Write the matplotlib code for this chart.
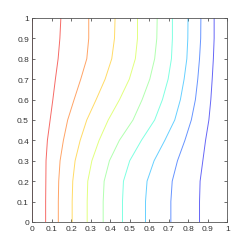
import matplotlib.pyplot as plt
import numpy as np

# y levels where the contour positions were read
y_levels = [0.0, 0.1, 0.2, 0.3, 0.4, 0.5, 0.6, 0.7, 0.8, 0.9, 1.0]

# x position of each contour line at the y levels above (left to right)
c0 = [0.0, 0.0, 0.0, 0.0, 0.0, 0.0, 0.0, 0.0, 0.0, 0.0, 0.0]
c1 = [0.068, 0.068, 0.069, 0.070, 0.077, 0.091, 0.105, 0.118, 0.132, 0.141, 0.146]
c2 = [0.133, 0.133, 0.135, 0.142, 0.159, 0.181, 0.214, 0.248, 0.279, 0.289, 0.289]
c3 = [0.204, 0.204, 0.207, 0.219, 0.245, 0.279, 0.327, 0.373, 0.407, 0.421, 0.424]
c4 = [0.281, 0.281, 0.284, 0.305, 0.342, 0.389, 0.447, 0.497, 0.528, 0.539, 0.539]
c5 = [0.363, 0.363, 0.368, 0.395, 0.446, 0.516, 0.563, 0.602, 0.627, 0.638, 0.640]
c6 = [0.462, 0.462, 0.467, 0.499, 0.559, 0.627, 0.667, 0.696, 0.713, 0.718, 0.718]
c7 = [0.580, 0.580, 0.588, 0.624, 0.679, 0.730, 0.759, 0.778, 0.792, 0.797, 0.798]
c8 = [0.710, 0.710, 0.717, 0.744, 0.782, 0.815, 0.836, 0.848, 0.857, 0.863, 0.864]
c9 = [0.857, 0.857, 0.860, 0.874, 0.888, 0.905, 0.915, 0.922, 0.928, 0.932, 0.932]

lines = [c0, c1, c2, c3, c4, c5, c6, c7, c8, c9]
levels = [1.0, 0.9, 0.8, 0.7, 0.6, 0.5, 0.4, 0.3, 0.2, 0.1]

ticks = [0, 0.1, 0.2, 0.3, 0.4, 0.5, 0.6, 0.7, 0.8, 0.9, 1]
tick_labels = ["0", "0.1", "0.2", "0.3", "0.4", "0.5", "0.6", "0.7", "0.8", "0.9", "1"]

plt.rcParams['font.family'] = ['Liberation Sans', 'DejaVu Sans']

fig = plt.figure(figsize=(2.51, 2.51), dpi=100)
ax = fig.add_axes([0.129, 0.1116, 0.777, 0.813])

for xs, lv in zip(lines, levels):
    ax.plot(xs, y_levels, color=plt.cm.jet(lv), linewidth=0.7, alpha=0.6)

ax.set_xlim(0, 1)
ax.set_ylim(0, 1)
ax.set_xticks(ticks)
ax.set_xticklabels(tick_labels)
ax.set_yticks(ticks)
ax.set_yticklabels(tick_labels)
ax.tick_params(direction='in', length=2.5, width=0.5, labelsize=6,
               colors='#333333', top=True, right=True, pad=2.5)
for s in ax.spines.values():
    s.set_color('#555555')
    s.set_linewidth(0.6)

fig.savefig("out.png", dpi=100)
